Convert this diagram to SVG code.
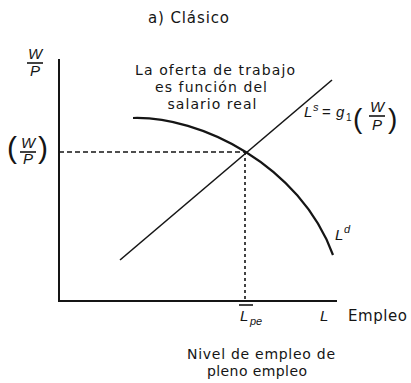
<svg xmlns="http://www.w3.org/2000/svg" width="411" height="383" viewBox="0 0 411 383">
<style>
.t{font-family:"DejaVu Sans","Liberation Sans",sans-serif;fill:#151515}
.m{font-family:"Liberation Sans",Arial,sans-serif;font-style:italic;fill:#151515}
.p{font-family:"Liberation Sans",Arial,sans-serif;fill:#151515}
.ln{stroke:#151515;fill:none}
</style>
<rect width="411" height="383" fill="#fff"/>
<g id="title"><text class="t" x="148" y="23" font-size="15" textLength="81" lengthAdjust="spacing">a) Clásico</text></g>
<g id="axes">
<line class="ln" x1="59" y1="59" x2="59" y2="301" stroke-width="2"/>
<line class="ln" x1="58" y1="301" x2="337" y2="301" stroke-width="2"/>
</g>
<g id="connectors">
<line class="ln" x1="59" y1="152" x2="245" y2="152" stroke-width="1.6" stroke-dasharray="5,3"/>
<line class="ln" x1="245" y1="152" x2="245" y2="301" stroke-width="1.6" stroke-dasharray="3,3" stroke="#333"/>
</g>
<g id="supply"><line class="ln" x1="120" y1="260" x2="332" y2="80" stroke-width="1.6"/></g>
<g id="demand"><path class="ln" d="M133,118 C200,116 300,165 333,255" stroke-width="2.2"/></g>
<g id="ylabel">
<text class="m" x="35" y="59" font-size="15" text-anchor="middle">W</text>
<line class="ln" x1="27" y1="63" x2="43" y2="63" stroke-width="1.6"/>
<text class="m" x="35" y="76" font-size="15" text-anchor="middle">P</text>
</g>
<g id="wp-eq">
<text class="p" x="7" y="158" font-size="30">(</text>
<text class="m" x="28" y="148" font-size="15" text-anchor="middle">W</text>
<line class="ln" x1="20" y1="152" x2="36" y2="152" stroke-width="1.6"/>
<text class="m" x="28" y="164" font-size="15" text-anchor="middle">P</text>
<text class="p" x="38" y="158" font-size="30">)</text>
</g>
<g id="note">
<text class="t" font-size="14" text-anchor="middle" x="215" y="75" textLength="160" lengthAdjust="spacing">La oferta de trabajo</text>
<text class="t" font-size="14" text-anchor="middle" x="211" y="92" textLength="112" lengthAdjust="spacing">es función del</text>
<text class="t" font-size="14" text-anchor="middle" x="212" y="109" textLength="89" lengthAdjust="spacing">salario real</text>
</g>
<g id="ls-label">
<text class="m" x="304" y="117" font-size="15">L</text>
<text class="m" x="313" y="111" font-size="11">s</text>
<text class="p" x="322" y="117" font-size="15">=</text>
<text class="m" x="336" y="117" font-size="15">g</text>
<text class="p" x="346" y="121" font-size="10">1</text>
<text class="p" x="353" y="128" font-size="28">(</text>
<text class="m" x="377" y="112" font-size="15" text-anchor="middle">W</text>
<line class="ln" x1="369" y1="116" x2="385" y2="116" stroke-width="1.6"/>
<text class="m" x="377" y="130" font-size="15" text-anchor="middle">P</text>
<text class="p" x="388" y="128" font-size="28">)</text>
</g>
<g id="ld-label">
<text class="m" x="335" y="240" font-size="15">L</text>
<text class="m" x="344" y="233" font-size="11">d</text>
</g>
<g id="lpe-label">
<line class="ln" x1="239" y1="305" x2="253" y2="305" stroke-width="1.6"/>
<text class="m" x="240" y="321" font-size="15">L</text>
<text class="m" x="250" y="325" font-size="11">pe</text>
</g>
<g id="x-label">
<text class="m" x="320" y="321" font-size="15">L</text>
<text class="t" x="348" y="321" font-size="15" textLength="59" lengthAdjust="spacing">Empleo</text>
</g>
<g id="bottom-note">
<text class="t" font-size="14" text-anchor="middle" x="261" y="359" textLength="148" lengthAdjust="spacing">Nivel de empleo de</text>
<text class="t" font-size="14" text-anchor="middle" x="257" y="376" textLength="100" lengthAdjust="spacing">pleno empleo</text>
</g>
</svg>
